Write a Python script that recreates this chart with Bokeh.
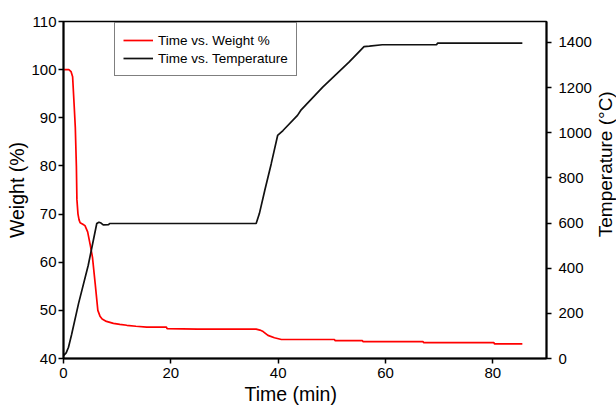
import math
from bokeh.plotting import figure
from bokeh.layouts import row
from bokeh.models import Range1d, LinearAxis, Legend, LegendItem, FixedTicker, Title, Label
from bokeh.embed import file_html
from bokeh.resources import INLINE

# ---- data ----
time_weight = [0, 1.0, 1.4, 1.7, 2.0, 2.2, 2.4, 2.5, 2.7, 2.9, 3.1, 3.6, 4.0, 4.5, 5.0, 5.4,
               5.9, 6.4, 6.8, 7.2, 8.0, 9.3, 10.5, 11.8, 13.5, 15.5, 19.2, 19.3, 25.0, 35.9,
               36.6, 37.2, 38.1, 39.3, 40.6, 50.5, 50.6, 55.7, 55.8, 67.0, 67.1, 80.2, 80.3, 85.5]
weight = [100, 100, 99.6, 98.5, 92.3, 88.0, 80.0, 73.0, 70.0, 68.8, 68.2, 67.9, 67.6, 66.3, 63.5, 61.0,
          55.6, 50.0, 48.8, 48.2, 47.7, 47.3, 47.1, 46.9, 46.7, 46.5, 46.5, 46.2, 46.1, 46.1,
          45.9, 45.6, 44.8, 44.3, 43.95, 43.95, 43.7, 43.7, 43.5, 43.5, 43.3, 43.3, 43.05, 43.05]

time_temp = [0, 0.5, 0.93, 1.5, 2.8, 4.6, 6.2, 6.6, 7.0, 7.4, 8.4, 8.6, 35.9, 36.5, 37.5, 38.7,
             39.9, 40.9, 43.6, 44.2, 48.3, 53.2, 56.0, 57.0, 59.4, 69.5, 69.7, 85.5]
temperature = [13, 25, 50, 105, 243, 412, 598, 604, 600, 592, 593, 598, 598, 642, 744, 862,
               988, 1010, 1077, 1099, 1202, 1313, 1382, 1384, 1390, 1390, 1397, 1397]

x_ticks = [0, 20, 40, 60, 80]
weight_ticks = [40, 50, 60, 70, 80, 90, 100, 110]
temp_ticks = [0, 200, 400, 600, 800, 1000, 1200, 1400]

x_title = "Time (min)"
weight_title = "Weight (%)"
temp_title = "Temperature (°C)"

FONT = "Liberation Sans"
TITLE_SIZE = "19.5px"

p = figure(width=594, height=406, output_backend="svg", toolbar_location=None,
           x_range=Range1d(0, 90), y_range=Range1d(40, 110),
           min_border_left=63, min_border_right=47, min_border_top=21, min_border_bottom=48)
p.extra_y_ranges = {"temp": Range1d(0, 1493)}

p.xgrid.visible = False
p.ygrid.visible = False
p.outline_line_color = "black"
p.outline_line_width = 1.5
p.outline_line_alpha = 1

r_w = p.line(time_weight, weight, line_color="#ff0000", line_width=1.7)
r_t = p.line(time_temp, temperature, line_color="#111111", line_width=1.7, y_range_name="temp")

right = LinearAxis(y_range_name="temp")
p.add_layout(right, "right")

p.xaxis.ticker = FixedTicker(ticks=x_ticks)
p.yaxis[0].ticker = FixedTicker(ticks=weight_ticks)
right.ticker = FixedTicker(ticks=temp_ticks)

for ax in [p.xaxis[0], p.yaxis[0], right]:
    ax.axis_line_color = "black"
    ax.axis_line_width = 2
    ax.major_tick_line_color = "black"
    ax.major_tick_line_width = 1.5
    ax.major_tick_out = 5
    ax.major_tick_in = 0
    ax.minor_tick_line_color = None
    ax.major_label_text_font = FONT
    ax.major_label_text_font_size = "15px"
    ax.major_label_text_color = "black"
    ax.axis_label_text_font = FONT
    ax.axis_label_text_font_size = TITLE_SIZE
    ax.axis_label_text_font_style = "normal"
    ax.axis_label_text_color = "black"

p.yaxis[0].major_label_standoff = 2
p.xaxis[0].major_label_standoff = 4
right.major_label_standoff = 7

# left axis title
p.yaxis[0].axis_label = weight_title
p.yaxis[0].axis_label_standoff = 0

# bottom title as a Title so it can be placed like the reference
xt = Title(text=x_title, align="left", offset=181, standoff=0,
           text_font=FONT, text_font_size=TITLE_SIZE, text_font_style="normal",
           text_color="black")
p.add_layout(xt, "below")

legend = Legend(items=[LegendItem(label="Time vs. Weight %", renderers=[r_w]),
                       LegendItem(label="Time vs. Temperature", renderers=[r_t])],
                location=(51, 282))
legend.label_text_font = FONT
legend.label_text_font_size = "13.5px"
legend.label_text_color = "black"
legend.glyph_width = 30
legend.glyph_height = 18
legend.label_height = 18
legend.spacing = 0
legend.padding = 8
legend.margin = 0
legend.label_standoff = 5
legend.border_line_color = "black"
legend.border_line_width = 1.5
legend.background_fill_color = "white"
legend.background_fill_alpha = 1
p.add_layout(legend)

# narrow strip on the right carrying the right-axis title (reads bottom-to-top)
p2 = figure(width=22, height=406, output_backend="svg", toolbar_location=None,
            x_range=Range1d(0, 22), y_range=Range1d(0, 406),
            x_axis_location=None, y_axis_location=None,
            min_border_left=0, min_border_right=0, min_border_top=0, min_border_bottom=0)
p2.xgrid.visible = False
p2.ygrid.visible = False
p2.outline_line_color = None
p2.add_layout(Label(x=11, y=234, text=temp_title, angle=math.pi / 2,
                    text_align="center", text_baseline="middle", text_font=FONT,
                    text_font_size="19px", text_color="black"))

layout = row(p, p2)
open("out.html", "w").write(file_html(layout, INLINE))
